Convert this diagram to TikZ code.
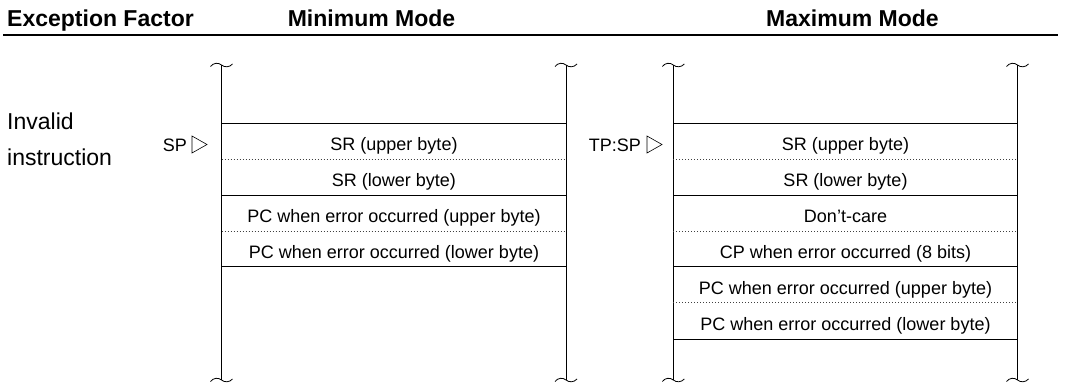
\documentclass[tikz,border=0pt]{standalone}
\usepackage{fontspec}
\setmainfont{Liberation Sans}
\begin{document}
\begin{tikzpicture}[x=1pt,y=-1pt,
  hdr/.style={font=\fontsize{23}{27}\selectfont\bfseries, anchor=base, inner sep=0pt},
  side/.style={font=\fontsize{23}{27}\selectfont, anchor=base west, inner sep=0pt},
  cell/.style={font=\fontsize{18}{22}\selectfont, anchor=base, inner sep=0pt},
  ptr/.style={font=\fontsize{18}{22}\selectfont, anchor=base east, inner sep=0pt},
  solidrule/.style={line width=0.9pt},
  dotrule/.style={line width=0.7pt, black!75, dash pattern=on 0.7pt off 2.3pt},
  wall/.style={line width=0.9pt},
  tildemark/.pic={\draw[line width=0.8pt] (-11,1.5) .. controls (-8,-2.5) and (-3,-2.5) .. (0,0) .. controls (3,2.5) and (8,2.5) .. (11,-1);},
  tri/.style={line width=0.6pt}
]
\useasboundingbox (0,0) rectangle (1065,391);

% header
\node[hdr, anchor=base west] (hexc) at (7,26.7) {Exception Factor};
\node[hdr] (hmin) at (371.5,26.7) {Minimum Mode};
\node[hdr] (hmax) at (852.5,26.7) {Maximum Mode};
\coordinate (rl) at (3,35);
\coordinate (rr) at (1058,35);
\draw[line width=1.6pt] (rl) -- (rr);

% side label
\node[side] (inv1) at (7,129) {Invalid};
\node[side] (inv2) at (7,165) {instruction};

% ---------- minimum mode ----------
\def\La{221.5}\def\Ra{566}
\foreach \x in {\La,\Ra} {
  \draw[wall] (\x,65) -- (\x,380);
  \pic at (\x,65) {tildemark};
  \pic at (\x,380) {tildemark};
}
\foreach \y in {123.3,195,266.7} \draw[solidrule] (\La,\y) -- (\Ra,\y);
\foreach \y in {159,231} \draw[dotrule] (\La,\y) -- (\Ra,\y);
\node[cell] (a1) at (394,150.5) {SR (upper byte)};
\node[cell] (a2) at (394,186.5) {SR (lower byte)};
\node[cell] (a3) at (394,222.5) {PC when error occurred (upper byte)};
\node[cell] (a4) at (394,258.5) {PC when error occurred (lower byte)};
\node[ptr] (sp) at (187,151) {SP};
\draw[tri] (192,136) -- (192,153) -- (207,144.5) -- cycle;

% ---------- maximum mode ----------
\def\Lb{673.3}\def\Rb{1017.5}
\foreach \x in {\Lb,\Rb} {
  \draw[wall] (\x,65) -- (\x,380);
  \pic at (\x,65) {tildemark};
  \pic at (\x,380) {tildemark};
}
\foreach \y in {123.3,195,266.7,339} \draw[solidrule] (\Lb,\y) -- (\Rb,\y);
\foreach \y in {159,231,302.7} \draw[dotrule] (\Lb,\y) -- (\Rb,\y);
\node[cell] (b1) at (845.5,150.5) {SR (upper byte)};
\node[cell] (b2) at (845.5,186.5) {SR (lower byte)};
\node[cell] (b3) at (845.5,222.5) {Don’t-care};
\node[cell] (b4) at (845.5,258.5) {CP when error occurred (8 bits)};
\node[cell] (b5) at (845.5,294.5) {PC when error occurred (upper byte)};
\node[cell] (b6) at (845.5,330.5) {PC when error occurred (lower byte)};
\node[ptr] (tpsp) at (641,151) {TP:SP};
\draw[tri] (647,136) -- (647,153) -- (662,144.5) -- cycle;
\end{tikzpicture}
\end{document}
